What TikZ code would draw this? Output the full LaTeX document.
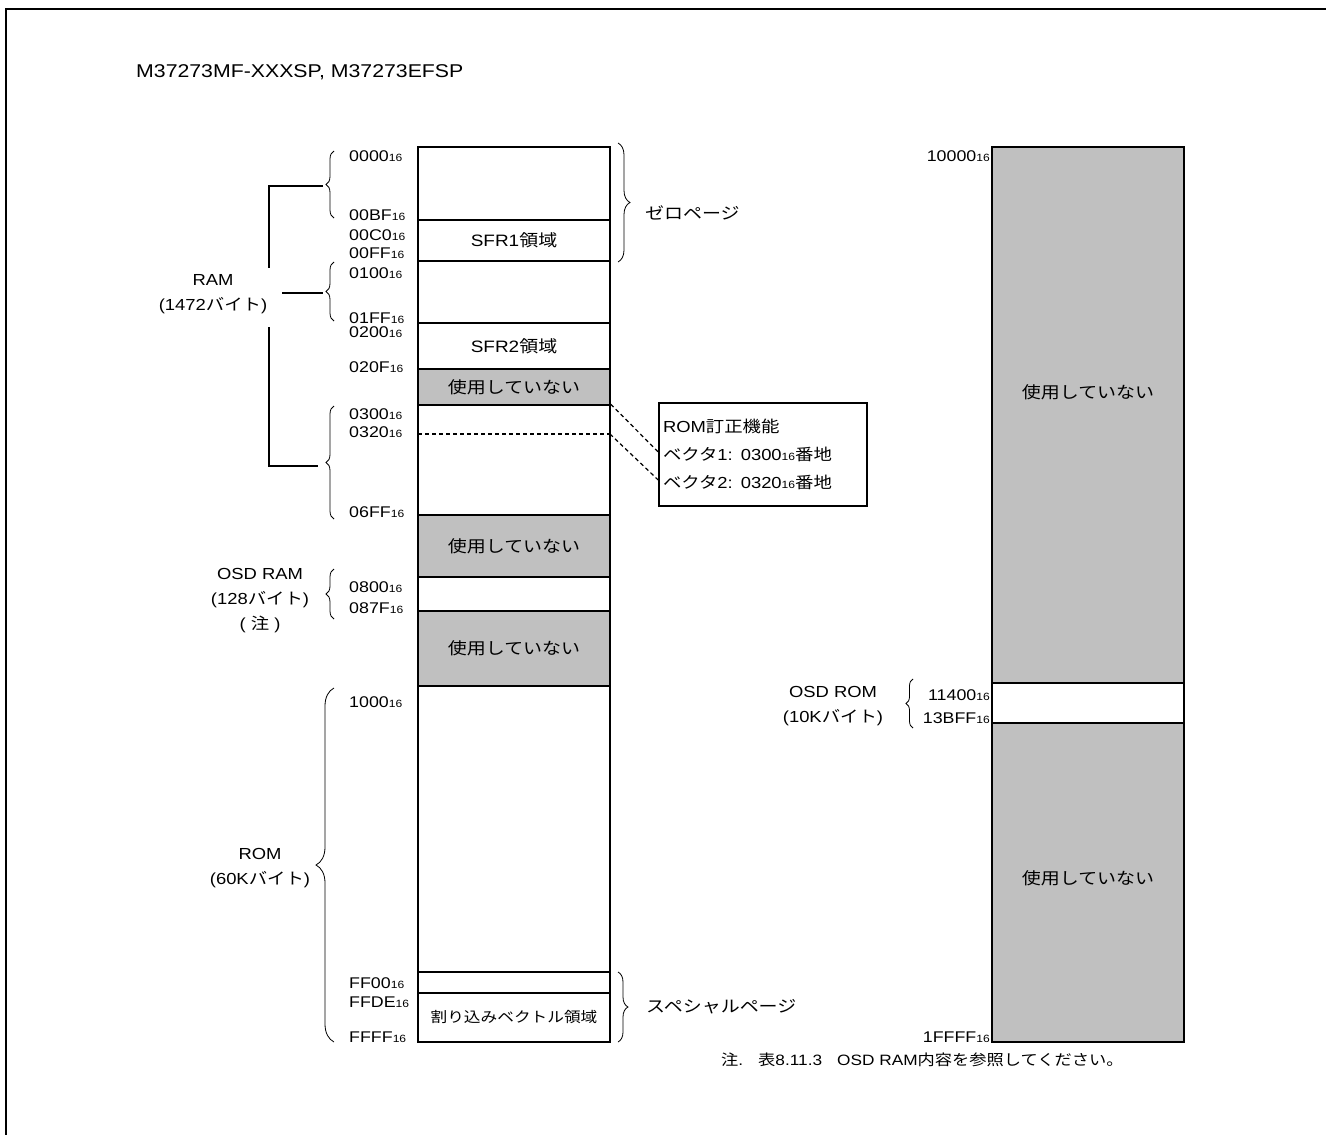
\documentclass[tikz,border=0pt]{standalone}
\usepackage{fontspec}
\setmainfont{Liberation Sans}[FakeStretch=1.15]
\newfontfamily\jp{Noto Sans CJK JP}[FakeStretch=1.15]
\usepackage{tikz}
\usetikzlibrary{decorations.pathreplacing,positioning}
\definecolor{unused}{HTML}{C0C0C0}
\newcommand\adr[1]{#1{\fontsize{10.5}{10.5}\selectfont 16}}
\newcommand\jt[1]{{\jp #1}}

\begin{document}
\begin{tikzpicture}[x=1pt,y=-1pt,
  seg/.style={draw,line width=1.6pt,minimum width=192pt,inner sep=0pt,font=\fontsize{16.5}{18}\selectfont},
  idle/.style={seg,fill=unused},
  adl/.style={anchor=west,inner sep=0pt,font=\fontsize{15.5}{15.5}\selectfont},
  adrr/.style={anchor=east,inner sep=0pt,font=\fontsize{15.5}{15.5}\selectfont},
  lbl/.style={align=center,inner sep=0pt,font=\fontsize{16}{25}\selectfont},
  jtxt/.style={inner sep=0pt,font={\jp\fontsize{16.5}{16.5}\selectfont}},
  brc/.style={decorate,decoration={brace,amplitude=#1},line width=0.8pt},
  lnk/.style={line width=1.2pt},
  dsh/.style={line width=1.2pt,dash pattern=on 4pt off 3pt}]
\useasboundingbox (0,0) rectangle (1326,1135);
\draw[line width=2pt] (6,1135) -- (6,9) -- (1326,9);
\node[anchor=west,inner sep=0pt,font=\fontsize{18.5}{20}\selectfont] (title) at (136,72) {M37273MF-XXXSP, M37273EFSP};

\node[seg,minimum height=73pt] (zp) at (514,183.5) {};
\node[seg,minimum height=41pt] (sfr1) at (514,240.5) {SFR1\jt{領域}};
\node[seg,minimum height=62pt] (ram1) at (514,292) {};
\node[seg,minimum height=46pt] (sfr2) at (514,346) {SFR2\jt{領域}};
\node[idle,minimum height=36pt] (un1) at (514,387) {\jt{使用していない}};
\node[seg,minimum height=110pt] (ram2) at (514,460) {};
\node[idle,minimum height=62pt] (un2) at (514,546) {\jt{使用していない}};
\node[seg,minimum height=34pt] (osd) at (514,594) {};
\node[idle,minimum height=75pt] (un3) at (514,648.5) {\jt{使用していない}};
\node[seg,minimum height=286pt] (rom) at (514,829) {};
\node[seg,minimum height=21pt] (sp) at (514,982.5) {};
\node[seg,minimum height=49pt,font={\jp\fontsize{14.5}{14.5}\selectfont}] (vec) at (514,1017.5) {割り込みベクトル領域};

\node[idle,minimum height=536pt] (h1) at (1088,415) {};
\node[seg,minimum height=40pt] (h2) at (1088,703) {};
\node[idle,minimum height=319pt] (h3) at (1088,882.5) {};
\node[jtxt] (u4) at (1088,392) {使用していない};
\node[jtxt] (u5) at (1088,878) {使用していない};

\node[adl] (a0000) at (349,156) {\adr{0000}};
\node[adl] (a00bf) at (349,215) {\adr{00BF}};
\node[adl] (a00c0) at (349,235) {\adr{00C0}};
\node[adl] (a00ff) at (349,253) {\adr{00FF}};
\node[adl] (a0100) at (349,273) {\adr{0100}};
\node[adl] (a01ff) at (349,318) {\adr{01FF}};
\node[adl] (a0200) at (349,332) {\adr{0200}};
\node[adl] (a020f) at (349,367) {\adr{020F}};
\node[adl] (a0300) at (349,414) {\adr{0300}};
\node[adl] (a0320) at (349,432) {\adr{0320}};
\node[adl] (a06ff) at (349,512) {\adr{06FF}};
\node[adl] (a0800) at (349,587) {\adr{0800}};
\node[adl] (a087f) at (349,608) {\adr{087F}};
\node[adl] (a1000) at (349,702) {\adr{1000}};
\node[adl] (aff00) at (349,983) {\adr{FF00}};
\node[adl] (affde) at (349,1002) {\adr{FFDE}};
\node[adl] (affff) at (349,1037) {\adr{FFFF}};
\node[adrr] (a10000) at (990,156) {\adr{10000}};
\node[adrr] (a11400) at (990,695) {\adr{11400}};
\node[adrr] (a13bff) at (990,718) {\adr{13BFF}};
\node[adrr] (a1ffff) at (990,1037) {\adr{1FFFF}};

\draw[brc=8pt] (334,218) -- (334,151);
\draw[brc=8pt] (334,321) -- (334,262);
\draw[brc=8pt] (334,519) -- (334,406);
\draw[brc=8pt] (334,619) -- (334,569);
\draw[brc=18pt] (334,1042) -- (334,688);
\draw[brc=7pt] (913,728) -- (913,679);
\draw[brc=12pt] (618,143) -- (618,262);
\draw[brc=10pt] (618,972) -- (618,1042);

\node[lbl] (ram) at (213,294.5) {RAM\\(1472\jt{バイト})};
\node[lbl] (osdram) at (260,601) {OSD RAM\\(128\jt{バイト})\\( \jt{注} )};
\node[lbl] (romlbl) at (260,868.5) {ROM\\(60K\jt{バイト})};
\node[lbl] (osdrom) at (833,706) {OSD ROM\\(10K\jt{バイト})};
\node[jtxt,anchor=west] (zpl) at (645,213) {ゼロページ};
\node[jtxt,anchor=west] (spl) at (646,1007) {スペシャルページ};

\coordinate (r1) at (323,186);
\coordinate (r2) at (323,293);
\coordinate (r3) at (318,466);
\coordinate (k1) at (269,268);
\coordinate (k2) at (269,327);
\coordinate (k3) at (282,293);
\draw[lnk] (r1) -| (k1);
\draw[lnk] (k2) |- (r3);
\draw[lnk] (k3) -- (r2);

\node[draw,line width=1.6pt,minimum width=208pt,minimum height=103pt,text width=200pt,inner xsep=4pt,align=left,font=\fontsize{16}{28}\selectfont] (fix) at (763,454.5) {ROM\jt{訂正機能}\\\jt{ベクタ}1: \adr{0300}\jt{番地}\\\jt{ベクタ}2: \adr{0320}\jt{番地}};
\coordinate (v1) at (418,434);
\coordinate (v2) at (610,434);
\coordinate (e1) at ([yshift=2.5pt]fix.west);
\coordinate (e2) at ([yshift=-25.5pt]fix.west);
\draw[dsh] (v1) -- (v2);
\draw[dsh] (ram2.north east) -- (e1);
\draw[dsh] (v2) -- (e2);

\node[anchor=west,inner sep=0pt,font=\fontsize{15}{15}\selectfont] (note) at (721,1060) {\jt{注}.\hspace{1em}\jt{表}8.11.3\hspace{1em}OSD RAM\jt{内容を参照してください。}};
\end{tikzpicture}
\end{document}
